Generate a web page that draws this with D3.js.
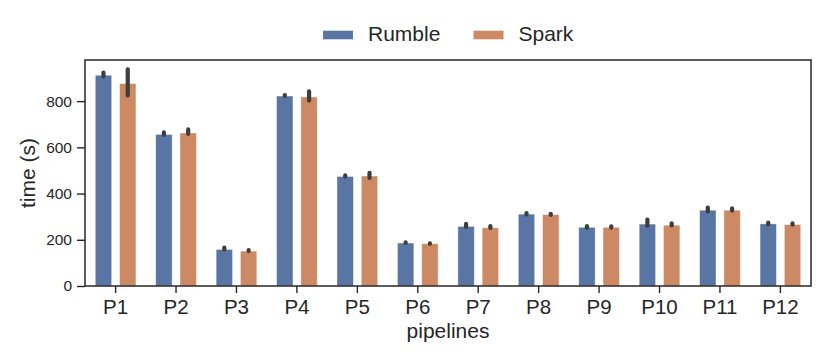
<!DOCTYPE html>
<html>
<head>
<meta charset="utf-8">
<script src="https://cdn.jsdelivr.net/npm/d3@7"></script>
<style>
  body { margin: 0; background: #fff; }
  text { font-family: "Liberation Sans", Arial, sans-serif; fill: #262626; }
</style>
</head>
<body>
<svg width="830" height="363"></svg>
<script>
// pipelines and series
const pipelines = ["P1", "P2", "P3", "P4", "P5", "P6", "P7", "P8", "P9", "P10", "P11", "P12"];
const seriesNames = ["Rumble", "Spark"];
const rumble = [912, 656, 158, 822, 474, 186, 258, 311, 254, 268, 328, 269];
const spark = [876, 662, 151, 818, 476, 183, 252, 309, 254, 263, 328, 266];
// error bar ranges [low, high]
const rumbleErr = [[903, 928], [650, 669], [154, 170], [818, 830], [469, 483], [182, 193], [251, 273], [305, 320], [248, 263], [256, 292], [318, 344], [262, 279]];
const sparkErr = [[820, 942], [654, 682], [147, 160], [798, 847], [463, 494], [179, 189], [247, 263], [303, 317], [248, 262], [258, 275], [322, 340], [261, 275]];
const yTicks = [0, 200, 400, 600, 800];
const colors = ["#5875a4", "#cc8963"];

const svg = d3.select("svg");
const margin = {top: 60, right: 19, bottom: 77, left: 85};
const width = +svg.attr("width") - margin.left - margin.right;
const height = +svg.attr("height") - margin.top - margin.bottom;

const g = svg.append("g")
    .attr("transform", `translate(${margin.left},${margin.top})`);

const x = d3.scaleBand().domain(pipelines).range([0, width]).paddingInner(0.327).paddingOuter(0.17);
const xs = d3.scaleBand().domain(seriesNames).range([0, x.bandwidth()]).paddingInner(0.325);
const y = d3.scaleLinear().domain([0, 978]).range([height, 0]);

const data = pipelines.map((p, i) => ({
  p: p,
  vals: [
    {s: "Rumble", v: rumble[i], e: rumbleErr[i]},
    {s: "Spark", v: spark[i], e: sparkErr[i]}
  ]
}));

const groups = g.selectAll("g.grp")
  .data(data)
  .enter().append("g")
    .attr("class", "grp")
    .attr("transform", d => `translate(${x(d.p)},0)`);

groups.selectAll("rect")
  .data(d => d.vals)
  .enter().append("rect")
    .attr("x", d => xs(d.s))
    .attr("y", d => y(d.v))
    .attr("width", xs.bandwidth())
    .attr("height", d => height - y(d.v))
    .attr("fill", (d, i) => colors[i])
    .attr("stroke", "#fff")
    .attr("stroke-opacity", 0.5)
    .attr("stroke-width", 0.8);

groups.selectAll("line.err")
  .data(d => d.vals)
  .enter().append("line")
    .attr("class", "err")
    .attr("x1", d => xs(d.s) + xs.bandwidth() / 2)
    .attr("x2", d => xs(d.s) + xs.bandwidth() / 2)
    .attr("y1", d => y(d.e[0]) - 1)
    .attr("y2", d => y(d.e[1]) + 1)
    .attr("stroke", "#3d3d3d")
    .attr("stroke-width", 4.2)
    .attr("stroke-linecap", "round");

// axes
const yAxis = g.append("g")
    .call(d3.axisLeft(y).tickValues(yTicks).tickSize(8).tickPadding(5));
yAxis.select(".domain").remove();
yAxis.selectAll("line").attr("stroke", "#262626").attr("stroke-width", 1.4);
yAxis.selectAll("text").attr("font-size", "15.5px").attr("fill", "#262626");

const xAxis = g.append("g")
    .attr("transform", `translate(0,${height})`)
    .call(d3.axisBottom(x).tickSize(7).tickPadding(6));
xAxis.select(".domain").remove();
xAxis.selectAll("line").attr("stroke", "#262626").attr("stroke-width", 1.4);
xAxis.selectAll("text").attr("font-size", "20.5px").attr("fill", "#262626");

// frame
g.append("rect")
    .attr("width", width)
    .attr("height", height)
    .attr("fill", "none")
    .attr("stroke", "#262626")
    .attr("stroke-width", 1.5);

// axis titles
svg.append("text")
    .attr("transform", `translate(35,${margin.top + height / 2}) rotate(-90)`)
    .attr("text-anchor", "middle")
    .attr("font-size", "21px")
    .text("time (s)");

svg.append("text")
    .attr("x", margin.left + width / 2)
    .attr("y", 338)
    .attr("text-anchor", "middle")
    .attr("font-size", "21px")
    .text("pipelines");

// legend
const legendX = [323, 473.5];
const legend = svg.selectAll("g.legend")
  .data(seriesNames)
  .enter().append("g")
    .attr("class", "legend")
    .attr("transform", (d, i) => `translate(${legendX[i]},35)`);

legend.append("rect")
    .attr("x", 0)
    .attr("y", -4.3)
    .attr("width", 30)
    .attr("height", 8.6)
    .attr("fill", (d, i) => colors[i]);

legend.append("text")
    .attr("x", 45)
    .attr("y", 5.7)
    .attr("font-size", "21px")
    .text(d => d);
</script>
</body>
</html>
